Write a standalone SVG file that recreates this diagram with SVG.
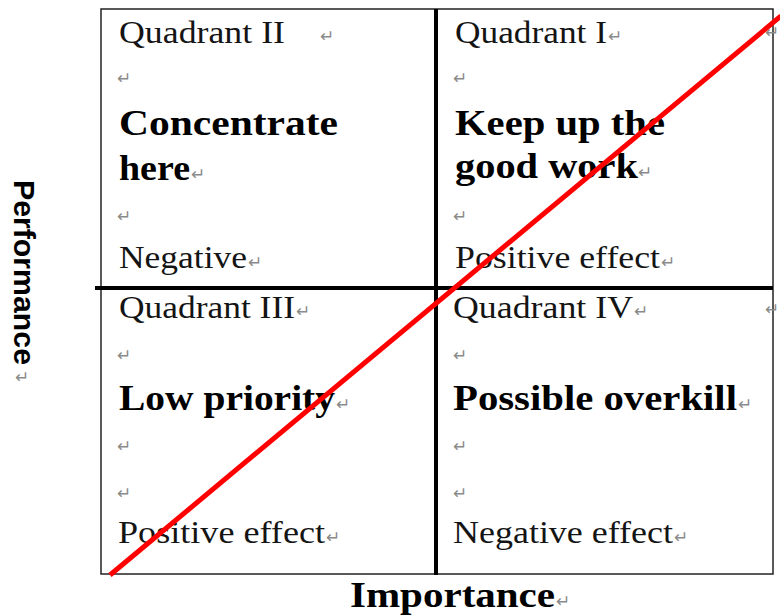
<svg xmlns="http://www.w3.org/2000/svg" width="780" height="615" viewBox="0 0 780 615">
<style>
.r{font-family:"Liberation Serif","Times New Roman",serif;font-size:31px;fill:#141414}
.b{font-family:"Liberation Serif","Times New Roman",serif;font-size:35px;font-weight:bold;fill:#000}
.m{font-family:"DejaVu Sans",sans-serif;font-size:17px;fill:#8a8a8a}
</style>
<rect x="0" y="0" width="780" height="615" fill="#fff"/>
<rect x="101" y="9" width="672" height="565" fill="#fff" stroke="#222" stroke-width="1.5"/>
<g id="quadrant2">
<text class="r" x="119" y="43" textLength="166" lengthAdjust="spacingAndGlyphs">Quadrant II</text>
<text class="m" x="320" y="42">↵</text>
<text class="m" x="117" y="84">↵</text>
<text class="b" x="119" y="135" textLength="219" lengthAdjust="spacingAndGlyphs">Concentrate</text>
<text class="b" x="119" y="180" textLength="71" lengthAdjust="spacingAndGlyphs">here</text>
<text class="m" x="191" y="180">↵</text>
<text class="m" x="117" y="222">↵</text>
<text class="r" x="119" y="268" textLength="128" lengthAdjust="spacingAndGlyphs">Negative</text>
<text class="m" x="248" y="268">↵</text>
</g>
<g id="quadrant1">
<text class="r" x="455" y="43" textLength="152" lengthAdjust="spacingAndGlyphs">Quadrant I</text>
<text class="m" x="608" y="42">↵</text>
<text class="m" x="453" y="84">↵</text>
<text class="b" x="455" y="135" textLength="210" lengthAdjust="spacingAndGlyphs">Keep up the</text>
<text class="b" x="455" y="178" textLength="183" lengthAdjust="spacingAndGlyphs">good work</text>
<text class="m" x="638" y="178">↵</text>
<text class="m" x="453" y="222">↵</text>
<text class="r" x="455" y="268" textLength="205" lengthAdjust="spacingAndGlyphs">Positive effect</text>
<text class="m" x="661" y="268">↵</text>
<text class="m" x="765" y="38">↵</text>
</g>
<g id="quadrant3">
<text class="r" x="119" y="318" textLength="176" lengthAdjust="spacingAndGlyphs">Quadrant III</text>
<text class="m" x="296" y="317">↵</text>
<text class="m" x="117" y="361">↵</text>
<text class="b" x="119" y="410" textLength="216" lengthAdjust="spacingAndGlyphs">Low priority</text>
<text class="m" x="336" y="410">↵</text>
<text class="m" x="117" y="452">↵</text>
<text class="m" x="117" y="499">↵</text>
<text class="r" x="118" y="543" textLength="207" lengthAdjust="spacingAndGlyphs">Positive effect</text>
<text class="m" x="326" y="543">↵</text>
</g>
<g id="quadrant4">
<text class="r" x="453" y="318" textLength="180" lengthAdjust="spacingAndGlyphs">Quadrant IV</text>
<text class="m" x="634" y="317">↵</text>
<text class="m" x="453" y="361">↵</text>
<text class="b" x="453" y="410" textLength="284" lengthAdjust="spacingAndGlyphs">Possible overkill</text>
<text class="m" x="738" y="410">↵</text>
<text class="m" x="453" y="452">↵</text>
<text class="m" x="453" y="499">↵</text>
<text class="r" x="453" y="543" textLength="220" lengthAdjust="spacingAndGlyphs">Negative effect</text>
<text class="m" x="674" y="543">↵</text>
<text class="m" x="765" y="315">↵</text>
</g>
<g id="axis-labels">
<text class="b" x="350" y="607" font-size="33" textLength="205" lengthAdjust="spacingAndGlyphs">Importance</text>
<text class="m" x="556" y="607">↵</text>
<text transform="translate(14,180) rotate(90)" x="0" y="0" font-family="Liberation Sans,Arial,sans-serif" font-size="30" font-weight="bold" fill="#000" textLength="185" lengthAdjust="spacingAndGlyphs">Performance</text>
<text class="m" x="15" y="383">↵</text>
</g>
<g id="connectors">
<line x1="436" y1="9" x2="436" y2="575" stroke="#000" stroke-width="4"/>
<line x1="95" y1="288" x2="773" y2="288" stroke="#000" stroke-width="4"/>
<line x1="110" y1="575" x2="781" y2="16" stroke="#ff0000" stroke-width="5"/>
</g>
</svg>
